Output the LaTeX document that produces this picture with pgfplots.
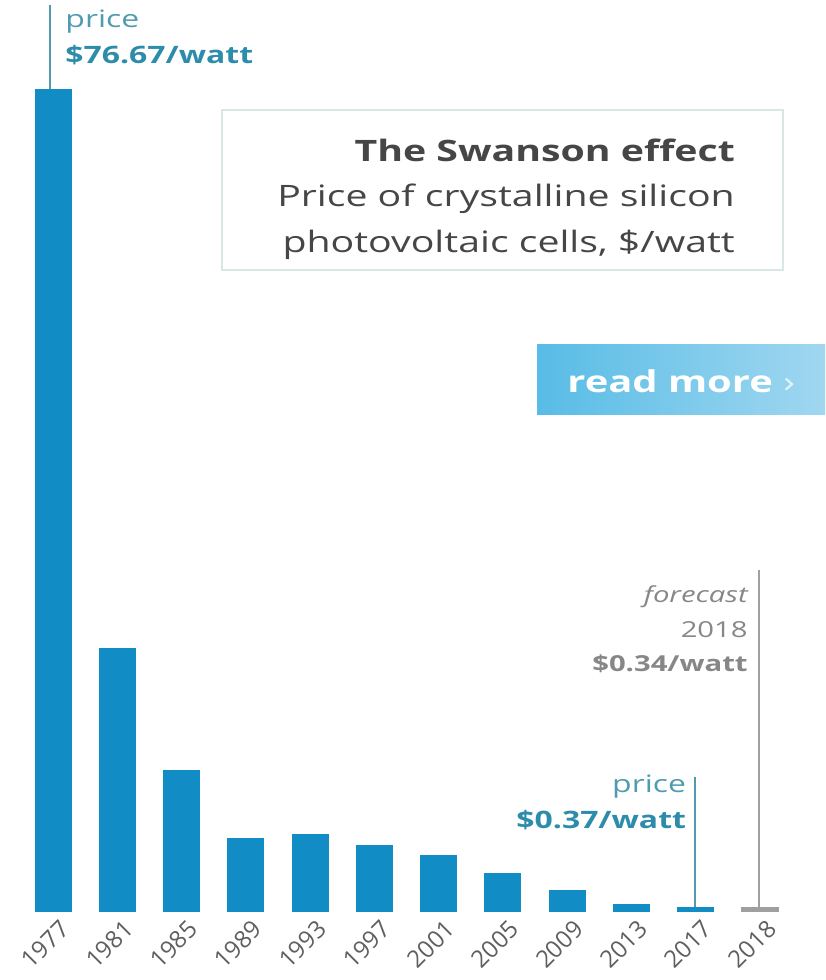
\documentclass[border=0pt]{standalone}
\usepackage{fontspec}
\setmainfont{Open Sans}
\usepackage{graphicx}
\usepackage{pgfplots}
\pgfplotsset{compat=1.18}
\definecolor{barblue}{RGB}{18,140,197}
\definecolor{teal1}{RGB}{45,140,170}
\definecolor{teal2}{RGB}{80,155,175}
\definecolor{gray1}{RGB}{135,135,135}
\definecolor{tickgray}{RGB}{95,95,95}
\definecolor{titlegray}{RGB}{70,70,70}
\definecolor{boxborder}{RGB}{218,230,230}
\definecolor{btnA}{RGB}{88,188,230}
\definecolor{btnB}{RGB}{160,215,240}
\newcommand{\sx}[1]{\scalebox{1.33}[1]{#1}}
\begin{document}
\begin{tikzpicture}
\path[use as bounding box] (0pt,-69pt) rectangle (825pt,911pt);
\begin{axis}[
  at={(0pt,0pt)}, anchor=south west,
  scale only axis, width=825pt, height=911pt,
  xmin=-0.825, xmax=12.01, ymin=0, ymax=84.98,
  axis line style={draw=none},
  tick style={draw=none},
  ytick=\empty,
  xtick={0,1,2,3,4,5,6,7,8,9,10,11},
  xticklabels={1977,1981,1985,1989,1993,1997,2001,2005,2009,2013,2017,2018},
  xticklabel style={rotate=45, anchor=east, font=\fontsize{24}{24}\selectfont, text=tickgray, xshift=5pt, yshift=-15pt},
  clip=false,
  ybar, bar width=36pt,
]
% title box
\draw[boxborder, line width=2pt, fill=white] (axis cs:2.63,59.8) rectangle (axis cs:11.36,74.72);
\node[anchor=base east, text=titlegray, font=\fontsize{29.5}{29.5}\selectfont\bfseries, inner sep=0] at (axis cs:10.61,69.87) {\sx{The Swanson effect}};
\node[anchor=base east, text=titlegray, font=\fontsize{29.5}{29.5}\selectfont, inner sep=0] at (axis cs:10.61,65.67) {\sx{Price of crystalline silicon}};
\node[anchor=base east, text=titlegray, font=\fontsize{29.5}{29.5}\selectfont, inner sep=0] at (axis cs:10.61,61.47) {\sx{photovoltaic cells, \$/watt}};
% read more button
\shade[left color=btnA, right color=btnB, shading angle=90] (axis cs:7.53,46.27) rectangle (axis cs:12.01,52.8);
\node[anchor=base west, text=white, font=\fontsize{30}{30}\selectfont\bfseries, inner sep=0] at (axis cs:8.0,48.4) {\sx{read more \textcolor{white!70!btnB}{\normalfont ›}}};
% bars
\addplot[fill=barblue, draw=barblue, line width=1pt, bar shift=0pt] coordinates {
(0,76.67) (1,24.5) (2,13.1) (3,6.8) (4,7.1) (5,6.1) (6,5.2) (7,3.5) (8,1.9) (9,0.6) (10,0.37)};
\addplot[fill=gray1!80, draw=gray1!80, line width=1.5pt, bar shift=0pt] coordinates {(11,0.34)};
% annotations
\draw[teal2, line width=2pt] (axis cs:-0.05,76.67) -- (axis cs:-0.05,84.5);
\node[anchor=base west, text=teal2, font=\fontsize{24}{24}\selectfont, inner sep=0] at (axis cs:0.19,82.4) {\sx{price}};
\node[anchor=base west, text=teal1, font=\fontsize{24}{24}\selectfont\bfseries, inner sep=0] at (axis cs:0.19,79.1) {\sx{\$76.67/watt}};
\draw[teal2, line width=2pt] (axis cs:9.99,0.37) -- (axis cs:9.99,12.5);
\node[anchor=base east, text=teal2, font=\fontsize{24}{24}\selectfont, inner sep=0] at (axis cs:9.85,11.1) {\sx{price}};
\node[anchor=base east, text=teal1, font=\fontsize{24}{24}\selectfont\bfseries, inner sep=0] at (axis cs:9.85,7.74) {\sx{\$0.37/watt}};
\draw[gray1!80, line width=2pt] (axis cs:10.98,0.34) -- (axis cs:10.98,31.8);
\node[anchor=base east, text=gray1, font=\fontsize{22}{22}\selectfont\itshape, inner sep=0] at (axis cs:10.81,28.8) {\sx{forecast}};
\node[anchor=base east, text=gray1, font=\fontsize{22}{22}\selectfont, inner sep=0] at (axis cs:10.81,25.5) {\sx{2018}};
\node[anchor=base east, text=gray1, font=\fontsize{22}{22}\selectfont\bfseries, inner sep=0] at (axis cs:10.81,22.3) {\sx{\$0.34/watt}};
\end{axis}
\end{tikzpicture}
\end{document}
